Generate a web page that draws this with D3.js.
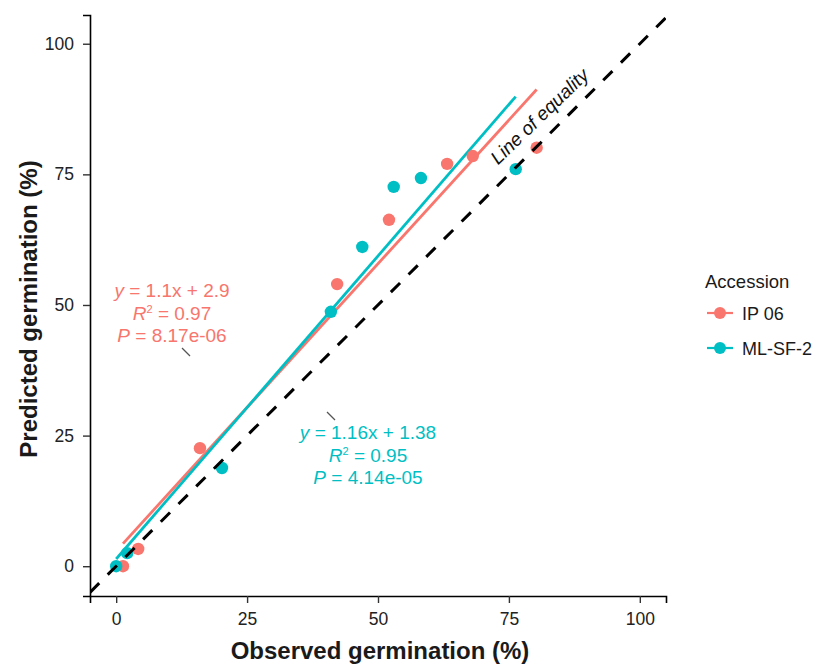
<!DOCTYPE html>
<html>
<head>
<meta charset="utf-8">
<script src="https://cdn.jsdelivr.net/npm/d3@7.8.5/dist/d3.min.js"></script>
<style>
  body { margin: 0; background: #fff; }
  svg { font-family: "Liberation Sans", Arial, Helvetica, sans-serif; }
</style>
</head>
<body>
<svg width="816" height="664"></svg>
<script>
// observed vs predicted germination (%)
const ipObserved = [1.3, 4.2, 16, 42.2, 52.1, 63.2, 68.1, 80.3];
const ipPredicted = [0, 3.3, 22.6, 54.0, 66.3, 77.0, 78.5, 80.1];
const mlObserved = [0, 2.1, 20.2, 41, 47, 53, 58.2, 76.3];
const mlPredicted = [0, 2.5, 18.8, 48.7, 61.1, 72.6, 74.3, 76.0];

const seriesNames = ["IP 06", "ML-SF-2"];
const seriesColors = ["#F8766D", "#00BFC4"];
const slopes = [1.1, 1.16];
const intercepts = [2.9, 1.38];
const r2Labels = ["0.97", "0.95"];
const pLabels = ["8.17e-06", "4.14e-05"];
const ticks = [0, 25, 50, 75, 100];

const svg = d3.select("svg");
const x = d3.scaleLinear().domain([-5, 105]).range([90, 666]);
const y = d3.scaleLinear().domain([-5.7, 105.5]).range([596, 15]);

const series = [
  { name: seriesNames[0], color: seriesColors[0], obs: ipObserved, pred: ipPredicted },
  { name: seriesNames[1], color: seriesColors[1], obs: mlObserved, pred: mlPredicted }
];

svg.append("defs").append("clipPath").attr("id", "panel")
  .append("rect").attr("x", 90).attr("y", 15).attr("width", 576).attr("height", 581);

const panel = svg.append("g").attr("clip-path", "url(#panel)");

// regression lines
series.forEach((s, i) => {
  const x0 = d3.min(s.obs), x1 = d3.max(s.obs);
  panel.append("line")
    .attr("x1", x(x0)).attr("y1", y(slopes[i] * x0 + intercepts[i]))
    .attr("x2", x(x1)).attr("y2", y(slopes[i] * x1 + intercepts[i]))
    .attr("stroke", s.color).attr("stroke-width", 2.8);
});

// points
series.forEach(s => {
  panel.append("g").selectAll("circle")
    .data(s.obs.map((o, j) => [o, s.pred[j]]))
    .join("circle")
    .attr("cx", d => x(d[0])).attr("cy", d => y(d[1]))
    .attr("r", 6.2).attr("fill", s.color);
});

// line of equality
panel.append("line")
  .attr("x1", x(-5)).attr("y1", y(-5))
  .attr("x2", x(105)).attr("y2", y(105))
  .attr("stroke", "#000").attr("stroke-width", 3)
  .attr("stroke-dasharray", "13,12");

svg.append("text")
  .attr("transform", "translate(544,121) rotate(-44)")
  .attr("text-anchor", "middle")
  .attr("font-size", 19).attr("font-style", "italic").attr("fill", "#111")
  .text("Line of equality");

// axes
const xAxis = svg.append("g").attr("transform", "translate(0,596)")
  .call(d3.axisBottom(x).tickValues(ticks).tickSize(7).tickPadding(10));
const yAxis = svg.append("g").attr("transform", "translate(90,0)")
  .call(d3.axisLeft(y).tickValues(ticks).tickSize(7).tickPadding(9));
[xAxis, yAxis].forEach(a => {
  a.select(".domain").attr("stroke", "#000").attr("stroke-width", 1.6);
  a.selectAll(".tick line").attr("stroke", "#333").attr("stroke-width", 1.4);
  a.selectAll(".tick text").attr("font-size", 17.5).attr("fill", "#222")
    .attr("font-family", "Liberation Sans, Arial, sans-serif");
});

svg.append("text")
  .attr("x", 380).attr("y", 659)
  .attr("text-anchor", "middle").attr("font-size", 24).attr("font-weight", "bold")
  .attr("fill", "#1a1a1a")
  .text("Observed germination (%)");

svg.append("text")
  .attr("transform", "translate(37,309) rotate(-90)")
  .attr("text-anchor", "middle").attr("font-size", 24).attr("font-weight", "bold")
  .attr("fill", "#1a1a1a")
  .text("Predicted germination (%)");

// fit annotations
const labelPos = [[172, 297], [368, 439]];
const leaders = [[[182, 348], [190, 356]], [[327, 412], [335, 420]]];
series.forEach((s, i) => {
  const g = svg.append("g").attr("fill", s.color).attr("font-size", 19)
    .attr("text-anchor", "middle");
  const [cx, cy] = labelPos[i];
  const t1 = g.append("text").attr("x", cx).attr("y", cy);
  t1.append("tspan").attr("font-style", "italic").text("y");
  t1.append("tspan").text(` = ${slopes[i]}x + ${intercepts[i]}`);
  const t2 = g.append("text").attr("x", cx).attr("y", cy + 22.5);
  t2.append("tspan").attr("font-style", "italic").text("R");
  t2.append("tspan").attr("font-size", 11).attr("dy", -7).text("2");
  t2.append("tspan").attr("dy", 7).text(` = ${r2Labels[i]}`);
  const t3 = g.append("text").attr("x", cx).attr("y", cy + 44.5);
  t3.append("tspan").attr("font-style", "italic").text("P");
  t3.append("tspan").text(` = ${pLabels[i]}`);

  svg.append("line")
    .attr("x1", leaders[i][0][0]).attr("y1", leaders[i][0][1])
    .attr("x2", leaders[i][1][0]).attr("y2", leaders[i][1][1])
    .attr("stroke", "#555").attr("stroke-width", 1.3);
});

// legend
const legend = svg.append("g").attr("transform", "translate(707,0)");
legend.append("text").attr("x", -2).attr("y", 288)
  .attr("font-size", 18.5).attr("fill", "#1a1a1a").text("Accession");
series.forEach((s, i) => {
  const ly = 313 + i * 35;
  legend.append("line").attr("x1", 0).attr("x2", 26).attr("y1", ly).attr("y2", ly)
    .attr("stroke", s.color).attr("stroke-width", 2.2);
  legend.append("circle").attr("cx", 13).attr("cy", ly).attr("r", 6).attr("fill", s.color);
  legend.append("text").attr("x", 35).attr("y", ly + 7)
    .attr("font-size", 18).attr("fill", "#1a1a1a").text(s.name);
});
</script>
</body>
</html>
